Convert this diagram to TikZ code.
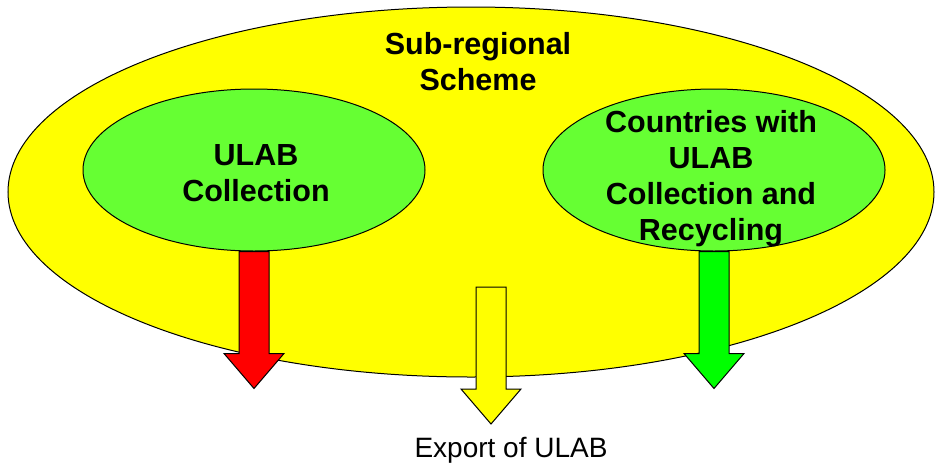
\documentclass[tikz,border=0pt]{standalone}
\usepackage{fontspec}
\setmainfont{Liberation Sans}
\usetikzlibrary{shapes.geometric}
\definecolor{schemeyellow}{HTML}{FFFF00}
\definecolor{ellgreen}{HTML}{66FF33}
\definecolor{arrowgreen}{HTML}{00FF00}
\definecolor{arrowred}{HTML}{FF0000}
\tikzset{
  region/.style={ellipse, draw, line width=1pt, inner sep=0pt},
  boldtext/.style={font=\fontsize{30.5}{36}\selectfont\bfseries, align=center},
}
\begin{document}
\begin{tikzpicture}[x=1pt, y=-1pt]
\useasboundingbox (0,0) rectangle (936,466);
\node[region, fill=schemeyellow, minimum width=926pt, minimum height=370pt] (scheme) at (471,192) {};
\node[region, fill=ellgreen, minimum width=342pt, minimum height=162pt] (collect) at (254,170) {};
\node[region, fill=ellgreen, minimum width=342pt, minimum height=162pt] (recycle) at (714,170) {};
\coordinate (export) at (491,287);
% block arrows
\foreach \src/\col in {collect.south/arrowred, recycle.south/arrowgreen, export/schemeyellow}{
  \draw[line width=1pt, fill=\col, shift={(\src)}] (-15,0) -- (15,0) -- (15,102) -- (30,102)
    -- (0,137) -- (-30,102) -- (-15,102) -- cycle;
}
\node[boldtext] (schemetext) at (478,62) {Sub-regional\\Scheme};
\node[boldtext] (collecttext) at (256,173) {ULAB\\Collection};
\node[boldtext] (recycletext) at (711,179) {Countries with\\ULAB\\Collection and\\Recycling};
\node[font=\fontsize{28}{32}\selectfont, anchor=base] (exporttext) at (511,457) {Export of ULAB};
\end{tikzpicture}
\end{document}
